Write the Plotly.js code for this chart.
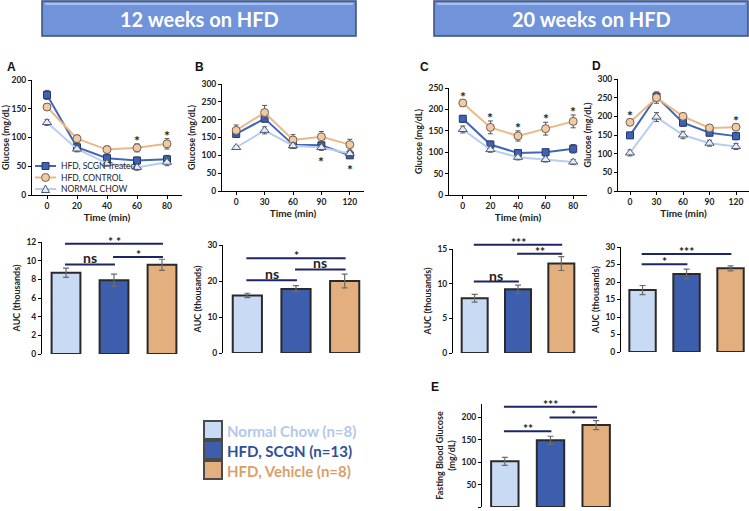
<!DOCTYPE html>
<html><head><meta charset="utf-8">
<script src="https://cdn.plot.ly/plotly-3.0.1.min.js"></script>
<style>html,body{margin:0;padding:0;background:#fff}#chart{width:749px;height:511px}</style>
</head><body><div id="chart"></div>
<script>
// ---------------- DATA ----------------
const groupNames = ['Normal Chow (n=8)', 'HFD, SCGN (n=13)', 'HFD, Vehicle (n=8)'];
const lineNames = ['HFD, SCGN Treated', 'HFD, CONTROL', 'NORMAL CHOW'];
const headers = ['12 weeks on HFD', '20 weeks on HFD'];

// Panel A (ITT, 12 wk)
const timeA = [0, 20, 40, 60, 80];
const scgnA = [174, 83, 64, 60, 62];   const scgnAErr = [8, 6, 6, 6, 7];
const ctrlA = [153, 98, 79, 82, 89];   const ctrlAErr = [6, 6, 6, 7, 9];
const chowA = [126, 80, 55, 48, 57];   const chowAErr = [5, 5, 5, 5, 6];
const starsA = [60, 80];
// Panel B (GTT, 12 wk)
const timeB = [0, 30, 60, 90, 120];
const scgnB = [160, 203, 130, 128, 100]; const scgnBErr = [10, 10, 8, 8, 8];
const ctrlB = [170, 220, 143, 152, 130]; const ctrlBErr = [15, 20, 15, 15, 15];
const chowB = [122, 170, 127, 122, 105]; const chowBErr = [5, 10, 8, 8, 8];
const starsBelowB = [90, 120];
// Panel C (ITT, 20 wk)
const timeC = [0, 20, 40, 60, 80];
const scgnC = [178, 118, 98, 100, 108]; const scgnCErr = [8, 8, 6, 6, 10];
const ctrlC = [215, 158, 138, 155, 172]; const ctrlCErr = [8, 15, 12, 15, 15];
const chowC = [153, 106, 88, 83, 77];   const chowCErr = [8, 6, 6, 6, 6];
const starsC = [0, 20, 40, 60, 80];
// Panel D (GTT, 20 wk)
const timeD = [0, 30, 60, 90, 120];
const scgnD = [149, 253, 183, 156, 147]; const scgnDErr = [6, 12, 10, 8, 10];
const ctrlD = [184, 250, 200, 169, 171]; const ctrlDErr = [8, 15, 8, 6, 8];
const chowD = [102, 198, 150, 128, 119]; const chowDErr = [8, 12, 10, 8, 8];
const starsD = [0, 120];

// AUC bars (order: Normal chow, SCGN, Vehicle)
const aucA = [8.7, 7.9, 9.55];  const aucAErr = [0.5, 0.65, 0.6];
const aucB = [16, 17.8, 20];    const aucBErr = [0.6, 0.9, 1.9];
const aucC = [7.9, 9.2, 12.9];  const aucCErr = [0.55, 0.6, 1.0];
const aucD = [17.7, 22.3, 23.9];const aucDErr = [1.3, 1.4, 0.7];
const fbgE = [102, 149, 183];   const fbgEErr = [9, 9, 10];

// significance brackets: [from group, to group, level, label]
const sigA = [[0, 1, 9.6, 'ns'], [1, 2, 10.4, '*'], [0, 2, 11.8, '* *']];
const sigB = [[0, 1, 20.2, 'ns'], [1, 2, 23.2, 'ns'], [0, 2, 26.3, '*']];
const sigC = [[0, 1, 10.3, 'ns'], [1, 2, 14.3, '**'], [0, 2, 15.6, '***']];
const sigD = [[0, 1, 25.1, '*'], [0, 2, 28, '***']];
const sigE = [[0, 1, 169, '**'], [1, 2, 200, '*'], [0, 2, 224, '***']];

// ---------------- STYLE ----------------
const W = 749, H = 511;
const FONT = 'Lato, "Open Sans", sans-serif';
const col = {
  scgnLine: '#4066b4', scgnFill: '#3f63b3', scgnEdge: '#25386a',
  ctrlLine: '#ebb887', ctrlFill: '#f3c9a1', ctrlEdge: '#6d6258',
  chowLine: '#b9cdee', chowFill: '#e6edf8', chowEdge: '#4b5a78'
};
const barFill = ['#c9daf4', '#3d5ead', '#e4af7e'];
const legText = ['#b4c8ea', '#2f4f9b', '#d99f6a'];

function dx(a, b) { return [a / W, Math.min(1, b / W)]; }
function dy(top, bot) { return [1 - bot / H, 1 - top / H]; }
const px = v => v / W, py = v => 1 - v / H;

const panels = {
  A:  {n: 1, x: [32, 182],  y: [80, 195],  xr: [-10, 90],     yr: [0, 200], dt: 50},
  B:  {n: 2, x: [222, 364], y: [84, 191],  xr: [-15, 135],    yr: [0, 300], dt: 50},
  C:  {n: 3, x: [449, 587], y: [88, 195],  xr: [-10, 90],     yr: [0, 250], dt: 50},
  D:  {n: 4, x: [618, 749], y: [79, 191],  xr: [-13.6, 134.7],yr: [0, 300], dt: 50},
  bA: {n: 5, x: [42, 186],  y: [242, 354], xr: [-0.5, 2.5],   yr: [0, 12],  dt: 2},
  bB: {n: 6, x: [223, 369], y: [245, 353], xr: [-0.5, 2.5],   yr: [0, 30],  dt: 10},
  bC: {n: 7, x: [453, 583], y: [249, 353], xr: [-0.5, 2.5],   yr: [0, 15],  dt: 5},
  bD: {n: 8, x: [621, 749], y: [247, 352], xr: [-0.49, 2.42], yr: [0, 30],  dt: 5},
  bE: {n: 9, x: [482, 619], y: [404, 507], xr: [-0.5, 2.5],   yr: [0, 230], dt: 50, tv: [0, 50, 100, 150, 200]}
};

const layout = {
  width: W, height: H, margin: {l: 0, r: 0, t: 0, b: 0},
  paper_bgcolor: '#fff', plot_bgcolor: 'rgba(0,0,0,0)',
  font: {family: FONT, color: '#222'},
  showlegend: false,
  shapes: [], annotations: []
};

const tickFont = {size: 8.5, family: FONT, weight: 'bold', color: '#222'};
const titleFont = {size: 9, family: FONT, weight: 'bold', color: '#222'};

const lineTitleY = 'Glucose (mg/dL)';
for (const key in panels) {
  const p = panels[key];
  const sx = p.n === 1 ? '' : p.n;
  const isLine = p.n <= 4;
  layout['xaxis' + sx] = {
    domain: dx(p.x[0], p.x[1]), range: p.xr, anchor: 'y' + sx,
    showgrid: false, zeroline: false, fixedrange: true,
    showline: isLine, linecolor: '#000', linewidth: 1,
    ticks: isLine ? 'outside' : '', ticklen: 3, tickcolor: '#000',
    showticklabels: isLine, tickfont: tickFont,
    tickvals: isLine ? (p.xr[1] > 100 ? timeB : timeA) : [],
    title: isLine ? {text: 'Time (min)', font: {size: 10, family: FONT, weight: 'bold', color: '#222'}, standoff: 0} : {text: ''}
  };
  layout['yaxis' + sx] = {
    domain: dy(p.y[0], p.y[1]), range: p.yr, anchor: 'x' + sx,
    showgrid: false, zeroline: false, fixedrange: true,
    showline: true, linecolor: '#000', linewidth: 1,
    ticks: 'outside', ticklen: 3, tickcolor: '#000', tickfont: tickFont,
    dtick: p.dt, tick0: 0, tickvals: p.tv,
    title: {text: isLine ? lineTitleY : (key === 'bE' ? 'Fasting Blood Glucose<br>(mg/dL)' : 'AUC (thousands)'),
            font: titleFont, standoff: 4}
  };
}

const series = [
  {name: lineNames[0], line: col.scgnLine, fill: col.scgnFill, edge: col.scgnEdge, symbol: 'square', size: 7},
  {name: lineNames[1], line: col.ctrlLine, fill: col.ctrlFill, edge: col.ctrlEdge, symbol: 'circle', size: 8},
  {name: lineNames[2], line: col.chowLine, fill: col.chowFill, edge: col.chowEdge, symbol: 'triangle-up', size: 8}
];

const traces = [];
function addLines(p, t, ys, errs) {
  const sx = p.n === 1 ? '' : p.n;
  ys.forEach((y, k) => {
    const s = series[k];
    traces.push({
      type: 'scatter', mode: 'lines+markers', xaxis: 'x' + sx, yaxis: 'y' + sx, cliponaxis: false,
      x: t, y: y, name: s.name, showlegend: false,
      line: {color: s.line, width: 2},
      marker: {symbol: s.symbol, size: s.size, color: s.fill, line: {color: s.edge, width: 1}},
      error_y: {type: 'data', array: errs[k], visible: true, color: '#555', thickness: 1, width: 2.5}
    });
  });
}
addLines(panels.A, timeA, [scgnA, ctrlA, chowA], [scgnAErr, ctrlAErr, chowAErr]);
addLines(panels.B, timeB, [scgnB, ctrlB, chowB], [scgnBErr, ctrlBErr, chowBErr]);
addLines(panels.C, timeC, [scgnC, ctrlC, chowC], [scgnCErr, ctrlCErr, chowCErr]);
addLines(panels.D, timeD, [scgnD, ctrlD, chowD], [scgnDErr, ctrlDErr, chowDErr]);

// stars on line panels
const starFont = {size: 14, family: FONT, color: '#222'};
function starsAbove(p, t, c, ce, list) {
  const sx = p.n === 1 ? '' : p.n;
  list.forEach(tt => {
    const i = t.indexOf(tt);
    layout.annotations.push({xref: 'x' + sx, yref: 'y' + sx, x: tt, y: c[i] + ce[i], text: '<b>*</b>',
      showarrow: false, yanchor: 'bottom', yshift: -7, font: starFont});
  });
}
function starsBelow(p, t, ser, errs, list) {
  const sx = p.n === 1 ? '' : p.n;
  list.forEach(tt => {
    const i = t.indexOf(tt);
    let lo = Infinity;
    ser.forEach((s, k) => { lo = Math.min(lo, s[i] - errs[k][i]); });
    layout.annotations.push({xref: 'x' + sx, yref: 'y' + sx, x: tt, y: lo, text: '<b>*</b>',
      showarrow: false, yanchor: 'top', yshift: -1, font: starFont});
  });
}
starsAbove(panels.A, timeA, ctrlA, ctrlAErr, starsA);
starsBelow(panels.B, timeB, [scgnB, chowB], [scgnBErr, chowBErr], starsBelowB);
starsAbove(panels.C, timeC, ctrlC, ctrlCErr, starsC);
starsAbove(panels.D, timeD, ctrlD, ctrlDErr, starsD);

// legend of panel A (drawn as a key inside the plot)
series.forEach((s, k) => {
  const yy = 166 + k * 11.5;
  layout.shapes.push({type: 'line', xref: 'paper', yref: 'paper', x0: px(35), x1: px(56), y0: py(yy), y1: py(yy),
    line: {color: s.line, width: 2}});
  const h = s.size / 2;
  if (s.symbol === 'square') {
    layout.shapes.push({type: 'rect', xref: 'paper', yref: 'paper', x0: px(45.5 - 3.5), x1: px(45.5 + 3.5),
      y0: py(yy + 3.5), y1: py(yy - 3.5), fillcolor: s.fill, line: {color: s.edge, width: 1}});
  } else if (s.symbol === 'circle') {
    layout.shapes.push({type: 'circle', xref: 'paper', yref: 'paper', x0: px(45.5 - 4), x1: px(45.5 + 4),
      y0: py(yy + 4), y1: py(yy - 4), fillcolor: s.fill, line: {color: s.edge, width: 1}});
  } else {
    layout.shapes.push({type: 'path', xref: 'paper', yref: 'paper',
      path: `M ${px(45.5)} ${py(yy - 4)} L ${px(49.5)} ${py(yy + 3.5)} L ${px(41.5)} ${py(yy + 3.5)} Z`,
      fillcolor: s.fill, line: {color: s.edge, width: 1}});
  }
  layout.annotations.push({xref: 'paper', yref: 'paper', x: px(59), y: py(yy), text: s.name, showarrow: false,
    xanchor: 'left', yanchor: 'middle', font: {size: 8.5, family: FONT, color: '#222'}});
});

// bar panels
function addBars(p, vals, errs, sig) {
  const sx = p.n;
  traces.push({
    type: 'bar', x: [0, 1, 2], y: vals, xaxis: 'x' + sx, yaxis: 'y' + sx, width: 0.6, showlegend: false,
    marker: {color: barFill, line: {color: '#2a2a2a', width: 2}},
    error_y: {type: 'data', array: errs, visible: true, color: '#6b6b6b', thickness: 1.2, width: 3}
  });
  const d = dy(p.y[0], p.y[1]);
  const toPaper = v => d[0] + (v - p.yr[0]) / (p.yr[1] - p.yr[0]) * (d[1] - d[0]);
  sig.forEach(([a, b, lvl, lab]) => {
    layout.shapes.push({type: 'line', xref: 'x' + sx, yref: 'paper', x0: a - 0.02, x1: b + 0.02,
      y0: toPaper(lvl), y1: toPaper(lvl), line: {color: '#1f2466', width: 2}});
    const isNs = lab === 'ns';
    layout.annotations.push({xref: 'x' + sx, yref: 'paper', x: (a + b) / 2, y: toPaper(lvl),
      text: '<b>' + lab + '</b>', showarrow: false, yanchor: 'bottom', yshift: isNs ? -4 : -7,
      font: {size: isNs ? 14 : 12, family: FONT, color: '#222'}});
  });
}
addBars(panels.bA, aucA, aucAErr, sigA);
addBars(panels.bB, aucB, aucBErr, sigB);
addBars(panels.bC, aucC, aucCErr, sigC);
addBars(panels.bD, aucD, aucDErr, sigD);
addBars(panels.bE, fbgE, fbgEErr, sigE);

// panel letters
[['A', 5, 67], ['B', 193, 67], ['C', 418, 67], ['D', 590, 66], ['E', 429, 387]].forEach(([t, x, y]) => {
  layout.annotations.push({xref: 'paper', yref: 'paper', x: px(x), y: py(y), text: '<b>' + t + '</b>',
    showarrow: false, xanchor: 'left', yanchor: 'middle', font: {size: 12, family: 'Liberation Sans, Arial', color: '#111'}});
});

// header banners
[[42, 356], [434, 748]].forEach(([a, b], i) => {
  layout.shapes.push({type: 'rect', xref: 'paper', yref: 'paper', x0: px(a), x1: px(b),
    y0: py(36), y1: py(1), fillcolor: '#7093d9', line: {color: '#3b4d78', width: 1.5}});
  layout.shapes.push({type: 'line', xref: 'paper', yref: 'paper', x0: px(a + 3), x1: px(b - 3),
    y0: py(4), y1: py(4), line: {color: '#a9bfee', width: 2}});
  layout.annotations.push({xref: 'paper', yref: 'paper', x: px((a + b) / 2), y: py(19),
    text: '<b>' + headers[i] + '</b>', showarrow: false, xanchor: 'center', yanchor: 'middle',
    font: {size: 20, family: FONT, color: '#fff'}});
});

// group legend (bottom-middle)
groupNames.forEach((g, i) => {
  const top = 421 + i * 20;
  layout.shapes.push({type: 'rect', xref: 'paper', yref: 'paper', x0: px(204), x1: px(222),
    y0: py(top + 18), y1: py(top), fillcolor: barFill[i], line: {color: '#4a4a4a', width: 2}});
  layout.annotations.push({xref: 'paper', yref: 'paper', x: px(225), y: py(top + 9.5),
    text: '<b>' + g + '</b>', showarrow: false, xanchor: 'left', yanchor: 'middle',
    font: {size: 15, family: FONT, color: legText[i]}});
});

Plotly.newPlot('chart', traces, layout, {displayModeBar: false, staticPlot: true});
</script>
</body></html>
